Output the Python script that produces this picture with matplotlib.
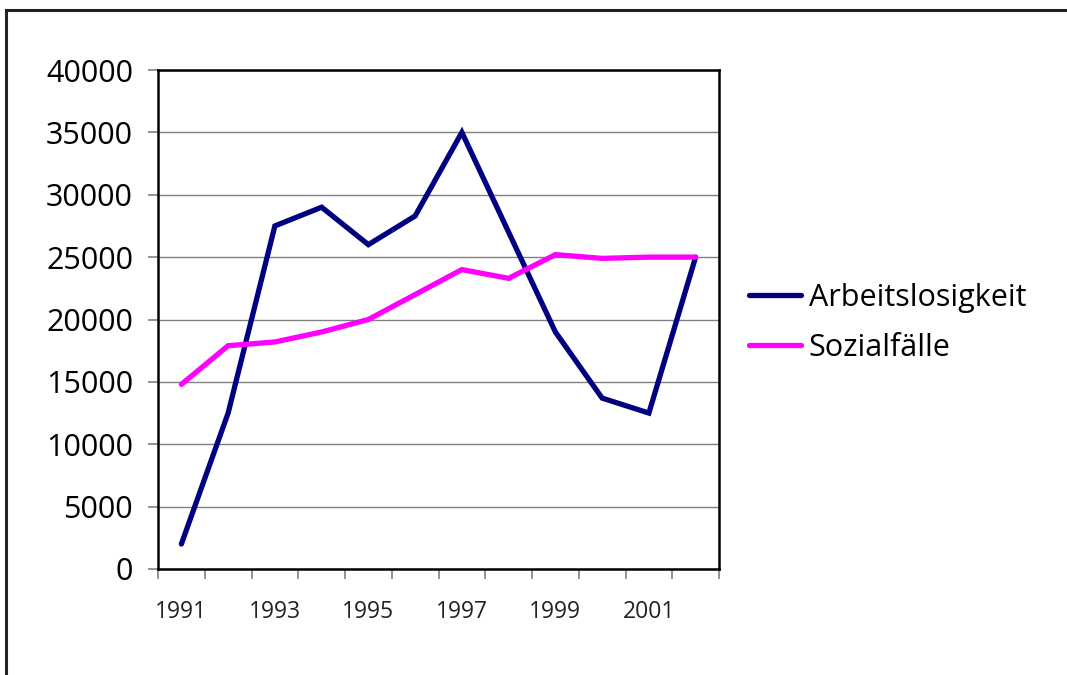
import matplotlib
matplotlib.use("Agg")
import matplotlib.pyplot as plt
from matplotlib.patches import Rectangle

plt.rcParams['font.family'] = ['Open Sans', 'DejaVu Sans']

years = ['1991', '1992', '1993', '1994', '1995', '1996',
         '1997', '1998', '1999', '2000', '2001', '2002']
arbeitslosigkeit = [2000, 12500, 27500, 29000, 26000, 28300,
                    35000, 27000, 19000, 13700, 12500, 25000]
sozialfaelle = [14800, 17900, 18200, 19000, 20000, 22000,
                24000, 23300, 25200, 24900, 25000, 25000]
yticks = [0, 5000, 10000, 15000, 20000, 25000, 30000, 35000, 40000]

W, H = 1067, 675
fig = plt.figure(figsize=(W / 100, H / 100), dpi=100)

# outer frame (cut off at right and bottom like the original)
fig.patches.append(Rectangle((5.5 / W, -0.1), 2.0, 1.1 - 10.5 / H, transform=fig.transFigure,
                             fill=False, edgecolor='#222222', linewidth=2.2))

ax = fig.add_axes([158 / W, 1 - 569 / H, (719 - 158) / W, (569 - 70) / H])

x = list(range(len(years)))
ax.plot(x, arbeitslosigkeit, color='#000080', linewidth=3.8, label='Arbeitslosigkeit',
        solid_joinstyle='miter', solid_capstyle='round', zorder=3)
ax.plot(x, sozialfaelle, color='#FF00FF', linewidth=3.8, label='Sozialfälle',
        solid_joinstyle='miter', solid_capstyle='round', zorder=3)

ax.set_xlim(-0.5, len(years) - 0.5)
ax.set_ylim(0, 40000)
ax.set_yticks(yticks)
ax.yaxis.grid(True, color='#808080', linewidth=1.0)
ax.set_axisbelow(True)

ax.set_xticks([i - 0.5 for i in range(len(years) + 1)])
ax.set_xticklabels([])
ax.set_xticks(x[::2], minor=True)
ax.set_xticklabels(years[::2], minor=True)
ax.tick_params(axis='x', which='major', length=7, width=1.2, color='#808080', direction='out')
ax.tick_params(axis='x', which='minor', length=0, pad=22, labelsize=16.5, labelcolor='#222222')
ax.tick_params(axis='y', length=7, width=1.2, color='#808080', pad=11, labelsize=22)

for s in ax.spines.values():
    s.set_linewidth(1.8)
    s.set_color('black')

fig.legend(loc='center left', bbox_to_anchor=(749 / W, 1 - 323 / H), frameon=False,
           fontsize=22, handlelength=1.7, handletextpad=0.25, labelspacing=0.65,
           borderpad=0, borderaxespad=0)

fig.savefig('out.png', dpi=100)
